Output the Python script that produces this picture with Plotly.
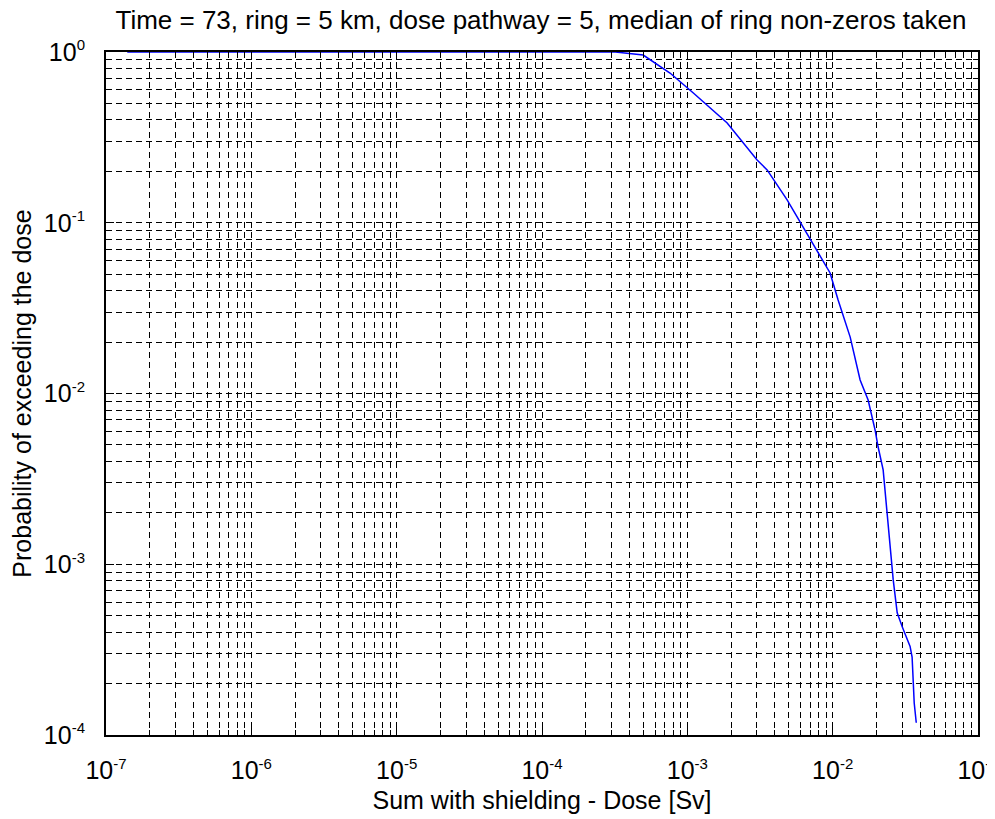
import plotly.graph_objects as go

dose = [1.4e-7, 3.2e-4, 4.97e-4, 7.6e-4, 1.1e-3, 1.88e-3, 3.02e-3, 3.54e-3, 4.86e-3, 6.27e-3,
        8.48e-3, 9.6e-3, 1.09e-2, 1.32e-2, 1.545e-2, 1.754e-2, 1.959e-2, 2.055e-2, 2.225e-2,
        2.37e-2, 2.49e-2, 2.61e-2, 2.78e-2, 3.01e-2, 3.41e-2, 3.52e-2, 3.58e-2, 3.64e-2, 3.76e-2]
prob = [1.0, 1.0, 0.960, 0.753, 0.575, 0.384, 0.233, 0.204, 0.136, 0.0944,
        0.0605, 0.0508, 0.0353, 0.0214, 0.0120, 0.00916, 0.00611, 0.00486, 0.00357,
        0.0020, 0.00126, 0.00081, 0.00052, 0.00043, 0.00033, 0.000286, 0.00021, 0.000154, 0.000118]

x_tickvals = [1e-7, 1e-6, 1e-5, 1e-4, 1e-3, 1e-2, 1e-1]
x_exponents = ["-7", "-6", "-5", "-4", "-3", "-2", "-1"]
y_tickvals = [1e-4, 1e-3, 1e-2, 1e-1, 1e0]
y_exponents = ["-4", "-3", "-2", "-1", "0"]
minor_digits = [2, 3, 4, 5, 6, 7, 8, 9]

title_text = "Time = 73, ring = 5 km, dose pathway = 5, median of ring non-zeros taken"
x_title = "Sum with shielding - Dose [Sv]"
y_title = "Probability of exceeding the dose"
x_range = [-7, -1]
y_range = [-4, 0]


def power_label(e):
    return "10<sup><span style='font-size:15px'>" + e + "</span></sup>"


def minor_vals(majors):
    return [m * d for m in majors[:-1] for d in minor_digits]


fig = go.Figure()
fig.add_trace(go.Scatter(x=dose, y=prob, mode="lines",
                         line=dict(color="#0000ff", width=1.5), showlegend=False))

font = dict(family="Liberation Sans, Arial, sans-serif", color="black")
grid = dict(showgrid=True, gridcolor="black", gridwidth=1, griddash="6px,4px")
common = dict(type="log", showline=True, linecolor="black", linewidth=2, mirror="ticks",
              ticks="inside", ticklen=8, tickcolor="black", zeroline=False, automargin=False,
              ticklabeloverflow="allow", tickfont=dict(size=25, **font), **grid)

fig.update_xaxes(range=x_range, tickmode="array", tickvals=x_tickvals,
                 ticktext=[power_label(e) for e in x_exponents], ticklabelstandoff=12,
                 minor=dict(tickmode="array", tickvals=minor_vals(x_tickvals), ticks="inside",
                            ticklen=5, tickcolor="black", **grid),
                 title=dict(text=x_title, font=dict(size=25, **font), standoff=8), **common)
fig.update_yaxes(range=y_range, tickmode="array", tickvals=y_tickvals,
                 ticktext=[power_label(e) for e in y_exponents], ticklabelstandoff=14,
                 minor=dict(tickmode="array", tickvals=minor_vals(y_tickvals), ticks="inside",
                            ticklen=5, tickcolor="black", **grid),
                 title=dict(text=y_title, font=dict(size=25, **font), standoff=12), **common)
fig.update_layout(
    width=987, height=811,
    margin=dict(l=98, r=17, t=44, b=84),
    paper_bgcolor="white", plot_bgcolor="white",
    title=dict(text=title_text, x=0.54, xanchor="center", y=0.985, yanchor="middle",
               font=dict(size=26, **font)),
)
fig.write_html("out.html")
